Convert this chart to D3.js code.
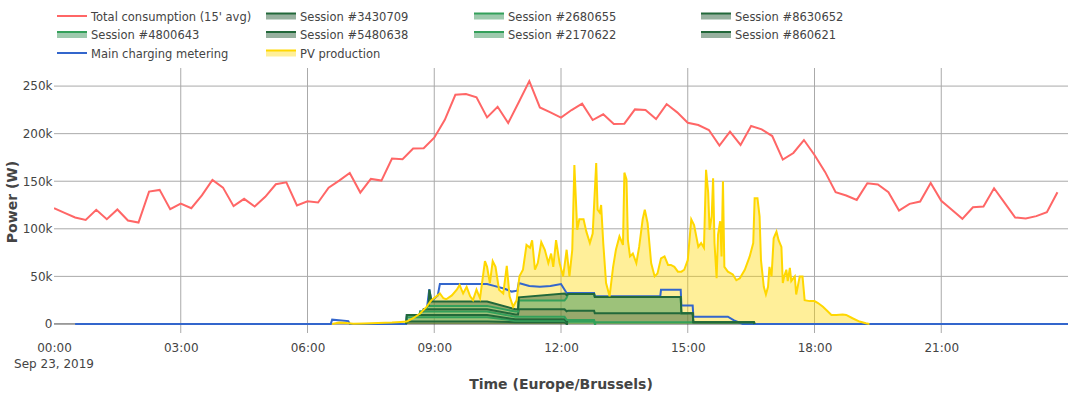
<!DOCTYPE html>
<html>
<head>
<meta charset="utf-8">
<script src="https://cdn.jsdelivr.net/npm/d3@7"></script>
<style>
body { margin: 0; background: #fff; }
svg { display: block; }
text { font-family: "DejaVu Sans", verdana, arial, sans-serif; }
</style>
</head>
<body>
<div id="chart"></div>
<script>
var width = 1078, height = 397;
var plot = {left: 54, right: 1068, top: 68, bottom: 333};

// total consumption, 15' averages from 00:00 (kW)
var consumption = [121.7, 116.8, 111.9, 109.4, 119.9, 110.1, 120.3, 108.7, 106.6, 139.1, 140.9, 120.6,
    126.6, 121.7, 135.1, 151.4, 143.3, 123.8, 131.5, 123.4, 133.6, 146.8, 148.9, 124.5,
    129, 127.6, 143.3, 150.7, 158.7, 138.1, 152.4, 150.7, 173.8, 173.1, 184.3, 184.6,
    195.8, 214.5, 240.9, 241.6, 238.1, 217.1, 228.3, 211.2, 233, 255.2, 227.6, 222.4,
    216.8, 224.8, 231.5, 214.3, 220.3, 210.1, 210.5, 225.5, 224.8, 215.4, 231.1, 222.4,
    211.5, 209.1, 203.8, 187.4, 202.1, 188.1, 208.0, 204.5, 197.5, 172.7, 179.7, 193.3,
    177.6, 159.8, 138.5, 135, 130.4, 147.9, 146.5, 138.5, 119.2, 126.2, 128.7, 148.2,
    129.4, 120, 110.5, 122.7, 123.4, 142.6, 127.3, 111.9, 110.8, 113.3, 117.5, 138.5];

var sessionNames = ["Session #3430709", "Session #2680655", "Session #8630652", "Session #4800643",
    "Session #5480638", "Session #2170622", "Session #860621"];

// charging sessions [time, kW], stacked in this order
var s3430709 = [["08:20", 0], ["08:21", 2.5], ["10:15", 2.5], ["10:55", 1.8], ["12:05", 1.8], ["12:08", 0], ["12:10", 0]];
var s2680655 = [["08:20", 0], ["08:21", 4.5], ["10:15", 4.5], ["10:55", 1.7], ["12:05", 1.7], ["12:10", 2.4], ["12:47", 2.4], ["12:48", 0], ["12:50", 0]];
var s8630652 = [["08:20", 0], ["08:21", 2.5], ["10:15", 2.5], ["10:55", 1.4], ["12:05", 1.4], ["12:08", 0], ["12:10", 0]];
var s4800643 = [["08:39", 0], ["08:40", 3.5], ["10:15", 3.5], ["10:55", 2.8], ["12:05", 2.8], ["12:10", 1.8], ["16:34", 1.8], ["16:35", 0]];
var s5480638 = [["08:44", 0], ["08:45", 2.5], ["10:15", 2.5], ["10:55", 2.3], ["10:59", 2.3], ["11:00", 7.8], ["12:05", 7.8], ["12:10", 9.8], ["12:47", 9.8], ["12:48", 9.4], ["15:07", 9.4], ["15:08", 0], ["16:35", 0]];
var s2170622 = [["08:49", 0], ["08:50", 3.5], ["10:15", 3.5], ["10:55", 3.0], ["10:59", 3], ["11:00", 9.1], ["12:05", 9.1], ["12:10", 17.6], ["12:47", 17.6], ["12:48", 17.2], ["14:50", 17.2], ["14:51", 0], ["15:00", 0]];
var s860621 = [["08:52", 0], ["08:53", 17], ["08:56", 4.6], ["10:15", 4.6], ["10:55", 2.5], ["10:59", 2.5], ["11:00", 3.4], ["12:05", 7.4], ["12:10", 0], ["16:35", 0]];
var sessions = [s3430709, s2680655, s8630652, s4800643, s5480638, s2170622, s860621];

var metering = [["00:30", 0], ["06:33", 0], ["06:35", 4.5], ["06:58", 3], ["07:00", 0], ["08:20", 0], ["08:21", 9.5],
    ["08:39", 9.5], ["08:40", 13], ["08:44", 13], ["08:45", 15.5], ["08:49", 15.5], ["08:50", 19], ["08:53", 36.5],
    ["08:56", 24], ["09:05", 30], ["09:08", 42], ["10:15", 42], ["10:25", 40], ["10:40", 37], ["10:50", 34],
    ["10:58", 35], ["11:00", 43], ["11:15", 40], ["11:30", 39], ["11:45", 40], ["12:00", 42], ["12:08", 32.5],
    ["12:47", 32.5], ["12:48", 29], ["14:21", 29], ["14:22", 35.9], ["14:50", 35.9], ["14:51", 19.3],
    ["15:07", 19.3], ["15:08", 7.7], ["15:57", 7.7], ["16:05", 4], ["16:18", 0], ["24:00", 0]];

var pvProduction = [["06:35", 0], ["06:45", 1.5], ["06:55", 1], ["07:05", 0.3], ["07:20", 0.5], ["07:40", 1], ["08:00", 1.5],
    ["08:12", 2], ["08:21", 2.5], ["08:30", 6], ["08:40", 11], ["08:49", 18], ["08:56", 25], ["09:03", 29], ["09:08", 32],
    ["09:13", 27], ["09:17", 26], ["09:25", 30], ["09:32", 36], ["09:36", 41], ["09:41", 32], ["09:46", 39], ["09:51", 29],
    ["09:55", 25], ["10:00", 36], ["10:05", 27], ["10:12", 66], ["10:15", 60], ["10:19", 43], ["10:23", 66], ["10:27", 60],
    ["10:32", 36], ["10:38", 32], ["10:43", 61], ["10:47", 29], ["10:52", 18], ["10:57", 25], ["11:01", 50], ["11:06", 57],
    ["11:11", 83], ["11:16", 80], ["11:19", 88], ["11:23", 57], ["11:27", 64], ["11:32", 86], ["11:37", 78], ["11:42", 64],
    ["11:46", 74], ["11:49", 60], ["11:53", 88], ["11:58", 64], ["12:03", 50], ["12:08", 78], ["12:12", 50], ["12:16", 78],
    ["12:19", 167], ["12:23", 99], ["12:26", 110], ["12:32", 110], ["12:36", 97], ["12:41", 85], ["12:45", 95], ["12:50", 169],
    ["12:52", 120], ["12:55", 117], ["12:57", 125], ["13:00", 85], ["13:04", 43], ["13:09", 29], ["13:14", 60], ["13:18", 78],
    ["13:23", 92], ["13:28", 83], ["13:30", 159], ["13:33", 152], ["13:35", 88], ["13:38", 71], ["13:42", 74], ["13:47", 64],
    ["13:51", 81], ["13:56", 110], ["13:59", 120], ["14:03", 106], ["14:08", 64], ["14:13", 50], ["14:17", 53], ["14:22", 69],
    ["14:27", 71], ["14:32", 62], ["14:36", 62], ["14:41", 60], ["14:46", 55], ["14:51", 55], ["14:55", 57], ["15:00", 67],
    ["15:05", 110], ["15:09", 104], ["15:15", 81], ["15:19", 85], ["15:23", 80], ["15:26", 162], ["15:29", 138], ["15:31", 99],
    ["15:34", 113], ["15:36", 153], ["15:38", 85], ["15:41", 48], ["15:43", 94], ["15:46", 108], ["15:48", 71], ["15:50", 150],
    ["15:52", 60], ["15:57", 55], ["16:04", 52], ["16:09", 46], ["16:14", 48], ["16:21", 57], ["16:28", 71], ["16:33", 85],
    ["16:35", 132], ["16:39", 132], ["16:42", 113], ["16:44", 67], ["16:48", 39], ["16:51", 31], ["16:54", 39], ["16:56", 60],
    ["16:59", 50], ["17:02", 90], ["17:06", 97], ["17:09", 88], ["17:13", 81], ["17:15", 43], ["17:17", 50], ["17:20", 57],
    ["17:22", 45], ["17:25", 59], ["17:27", 45], ["17:32", 50], ["17:34", 31], ["17:39", 50], ["17:43", 50], ["17:46", 25],
    ["17:53", 24], ["18:00", 24], ["18:05", 22], ["18:12", 18], ["18:19", 13], ["18:24", 9.5], ["18:31", 9.5], ["18:40", 10],
    ["18:45", 9.5], ["18:54", 6], ["19:04", 2.5], ["19:13", 0.7], ["19:18", 0]];

var yTicks = [0, 50, 100, 150, 200, 250];

var darkGreen = {line: "#22683a", fill: "rgba(47, 99, 63, 0.5)"};
var midGreen = {line: "#33a05a", fill: "rgba(59, 150, 91, 0.5)"};
var sessionColors = [darkGreen, midGreen, darkGreen, midGreen, darkGreen, midGreen, darkGreen];
var pvColor = {line: "#ffd700", fill: "rgba(255, 215, 0, 0.4)"};

function t(s) {
    var p = s.split(":");
    return new Date(2019, 8, 23, +p[0], +p[1]);
}

var svg = d3.select("#chart").append("svg")
    .attr("width", width)
    .attr("height", height);

var xScale = d3.scaleTime()
    .domain([t("00:00"), t("24:00")])
    .range([plot.left, plot.right]);
var yScale = d3.scaleLinear()
    .domain([-9.5, 269])
    .range([plot.bottom, plot.top]);

svg.append("clipPath").attr("id", "clip")
    .append("rect")
    .attr("x", plot.left).attr("y", plot.top)
    .attr("width", plot.right - plot.left).attr("height", plot.bottom - plot.top);

// grid
var xTicks = d3.timeHour.every(3).range(t("00:00"), t("24:00"));
svg.append("g").selectAll("line")
    .data(xTicks.slice(1))
    .enter().append("line")
    .attr("x1", d => xScale(d)).attr("x2", d => xScale(d))
    .attr("y1", plot.top).attr("y2", plot.bottom)
    .attr("stroke", "#aaa").attr("stroke-width", 1);
svg.append("g").selectAll("line")
    .data(yTicks.slice(1))
    .enter().append("line")
    .attr("x1", plot.left).attr("x2", plot.right)
    .attr("y1", d => yScale(d)).attr("y2", d => yScale(d))
    .attr("stroke", "#aaa").attr("stroke-width", 1);
svg.append("line")
    .attr("x1", plot.left).attr("x2", plot.right)
    .attr("y1", yScale(0)).attr("y2", yScale(0))
    .attr("stroke", "#444").attr("stroke-width", 1);

// axes labels
var yAxis = d3.axisLeft(yScale).tickValues(yTicks).tickSize(0).tickPadding(1.5)
    .tickFormat(d => d === 0 ? "0" : d + "k");
var gy = svg.append("g").attr("transform", "translate(" + plot.left + ",0)").call(yAxis);
gy.select(".domain").remove();
gy.selectAll("text").attr("font-size", 12).attr("fill", "#444").attr("font-family", null);

var gx = svg.append("g").attr("transform", "translate(0," + plot.bottom + ")")
    .call(d3.axisBottom(xScale).tickValues(xTicks).tickSize(0).tickPadding(0).tickFormat(d3.timeFormat("%H:%M")));
gx.select(".domain").remove();
gx.selectAll("text").attr("font-size", 12).attr("fill", "#444").attr("font-family", null).attr("dy", null).attr("y", 19);
svg.append("text")
    .attr("x", xScale(t("00:00"))).attr("y", 368)
    .attr("text-anchor", "middle").attr("font-size", 12).attr("fill", "#444")
    .text("Sep 23, 2019");

svg.append("text")
    .attr("x", (plot.left + plot.right) / 2).attr("y", 389)
    .attr("text-anchor", "middle").attr("font-size", 14).attr("font-weight", "bold").attr("fill", "#444")
    .text("Time (Europe/Brussels)");
svg.append("text")
    .attr("transform", "translate(16.5,202) rotate(-90)")
    .attr("text-anchor", "middle").attr("font-size", 14).attr("font-weight", "bold").attr("fill", "#444")
    .text("Power (W)");

// stack the sessions on the union of their time points
function valueAt(pts, ms) {
    var first = t(pts[0][0]).getTime(), last = t(pts[pts.length - 1][0]).getTime();
    if (ms < first || ms > last) return 0;
    for (var i = 1; i < pts.length; i++) {
        var a = t(pts[i - 1][0]).getTime(), b = t(pts[i][0]).getTime();
        if (ms <= b) return b === a ? pts[i][1] : pts[i - 1][1] + (pts[i][1] - pts[i - 1][1]) * (ms - a) / (b - a);
    }
    return 0;
}
var allTimes = [];
sessions.forEach(s => s.forEach(p => allTimes.push(t(p[0]).getTime())));
allTimes = Array.from(new Set(allTimes)).sort((a, b) => a - b);
var rows = allTimes.map(function (ms) {
    var r = {ms: ms};
    sessions.forEach((s, i) => r[i] = valueAt(s, ms));
    return r;
});
var stacked = d3.stack().keys(d3.range(sessions.length))(rows);

var chart = svg.append("g").attr("clip-path", "url(#clip)");

// fills
var pvArea = d3.area()
    .x(d => xScale(t(d[0])))
    .y0(yScale(0))
    .y1(d => yScale(d[1]));
chart.append("path")
    .datum(pvProduction)
    .attr("d", pvArea)
    .attr("fill", pvColor.fill);

var sessionArea = d3.area()
    .x(d => xScale(d.data.ms))
    .y0(d => yScale(d[0]))
    .y1(d => yScale(d[1]));
chart.selectAll(".sessionFill")
    .data(stacked)
    .enter().append("path")
    .attr("class", "sessionFill")
    .attr("d", sessionArea)
    .attr("fill", (d, i) => sessionColors[i].fill);

// lines
var consumptionLine = d3.line()
    .x((d, i) => xScale(d3.timeMinute.offset(t("00:00"), 15 * i)))
    .y(d => yScale(d));
chart.append("path")
    .datum(consumption)
    .attr("d", consumptionLine)
    .attr("fill", "none")
    .attr("stroke", "#ff6666")
    .attr("stroke-width", 2);

var pointLine = d3.line()
    .x(d => xScale(t(d[0])))
    .y(d => yScale(d[1]));
chart.append("path")
    .datum(metering)
    .attr("d", pointLine)
    .attr("fill", "none")
    .attr("stroke", "#3366cc")
    .attr("stroke-width", 2);

stacked.forEach(function (layer, i) {
    var s = sessions[i];
    var first = t(s[0][0]).getTime(), last = t(s[s.length - 1][0]).getTime();
    var line = d3.line()
        .defined(d => d.data.ms >= first && d.data.ms <= last)
        .x(d => xScale(d.data.ms))
        .y(d => yScale(d[1]));
    chart.append("path")
        .datum(layer)
        .attr("d", line)
        .attr("fill", "none")
        .attr("stroke", sessionColors[i].line)
        .attr("stroke-width", 2);
});

chart.append("path")
    .datum(pvProduction)
    .attr("d", pointLine)
    .attr("fill", "none")
    .attr("stroke", pvColor.line)
    .attr("stroke-width", 2);

// legend
var legendItems = [
    {name: "Total consumption (15' avg)", color: {line: "#ff6666"}},
    {name: sessionNames[0], color: sessionColors[0]},
    {name: sessionNames[1], color: sessionColors[1]},
    {name: sessionNames[2], color: sessionColors[2]},
    {name: sessionNames[3], color: sessionColors[3]},
    {name: sessionNames[4], color: sessionColors[4]},
    {name: sessionNames[5], color: sessionColors[5]},
    {name: sessionNames[6], color: sessionColors[6]},
    {name: "Main charging metering", color: {line: "#3366cc"}},
    {name: "PV production", color: pvColor}
];
var legendCols = [57, 266, 474, 701];
var legendRows = [16, 34.5, 53];
var legend = svg.append("g").selectAll("g")
    .data(legendItems)
    .enter().append("g")
    .attr("transform", (d, i) => "translate(" + legendCols[i % 4] + "," + legendRows[Math.floor(i / 4)] + ")");
legend.filter(d => d.color.fill).append("rect")
    .attr("x", 0).attr("y", -2.5).attr("width", 30).attr("height", 6)
    .attr("fill", d => d.color.fill);
legend.append("line")
    .attr("x1", 0).attr("x2", 30)
    .attr("y1", d => d.color.fill ? -2.5 : 0).attr("y2", d => d.color.fill ? -2.5 : 0)
    .attr("stroke", d => d.color.line).attr("stroke-width", 2);
legend.append("text")
    .attr("x", 34).attr("y", 4.5)
    .attr("font-size", 11.5).attr("fill", "#444")
    .text(d => d.name);
</script>
</body>
</html>
